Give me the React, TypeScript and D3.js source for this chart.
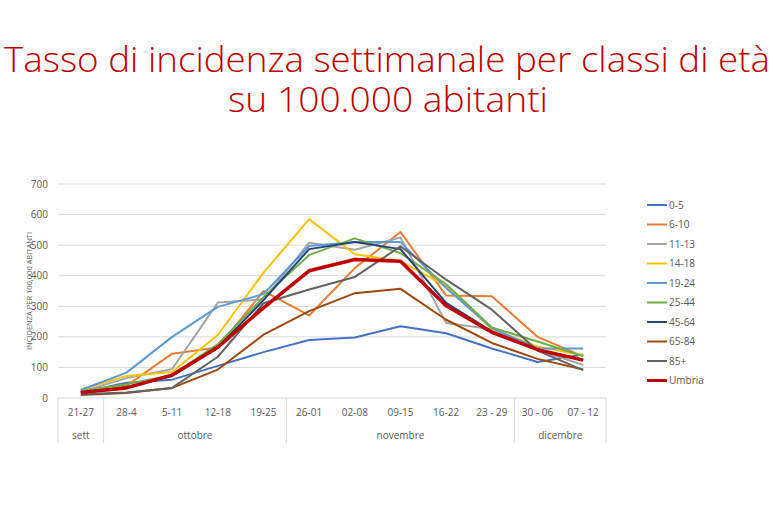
import React from "react";
import * as d3 from "d3";

const categories = ["21-27", "28-4", "5-11", "12-18", "19-25", "26-01", "02-08", "09-15", "16-22", "23 - 29", "30 - 06", "07 - 12"];
const groups = [
  { label: "sett", from: 0, to: 0 },
  { label: "ottobre", from: 1, to: 4 },
  { label: "novembre", from: 5, to: 9 },
  { label: "dicembre", from: 10, to: 11 },
];
const yTicks = [0, 100, 200, 300, 400, 500, 600, 700];

const s0_5 = [18, 50, 60, 105, 150, 190, 198, 235, 212, 162, 118, 142];
const s6_10 = [25, 40, 145, 165, 350, 270, 425, 543, 335, 333, 200, 136];
const s11_13 = [20, 65, 95, 312, 322, 508, 485, 525, 245, 225, 158, 108];
const s14_18 = [28, 72, 85, 206, 410, 585, 470, 448, 365, 226, 168, 140];
const s19_24 = [26, 83, 200, 298, 340, 497, 510, 510, 360, 229, 162, 162];
const s25_44 = [22, 45, 75, 176, 330, 468, 522, 474, 372, 231, 185, 137];
const s45_64 = [18, 35, 72, 165, 320, 487, 510, 487, 311, 218, 158, 125];
const s65_84 = [10, 16, 33, 93, 207, 284, 343, 357, 256, 180, 128, 93];
const s85 = [12, 18, 33, 135, 310, 355, 396, 496, 387, 289, 155, 91];
const sUmbria = [18, 33, 75, 166, 295, 416, 453, 447, 302, 215, 158, 124];

const seriesNames = ["0-5", "6-10", "11-13", "14-18", "19-24", "25-44", "45-64", "65-84", "85+", "Umbria"];
const seriesValues = [s0_5, s6_10, s11_13, s14_18, s19_24, s25_44, s45_64, s65_84, s85, sUmbria];
const seriesColors = ["#4472C4", "#ED7D31", "#A5A5A5", "#FFC000", "#5B9BD5", "#70AD47", "#264478", "#9E480E", "#636363", "#C00000"];

export default function App() {
  const W = 774, H = 516;
  const left = 58, right = 606, top = 184, bottom = 398;
  const x = d3.scaleBand<string>().domain(categories).range([left, right]);
  const cx = (i: number) => (x(categories[i]) as number) + x.bandwidth() / 2;
  const y = d3.scaleLinear().domain([0, 700]).range([bottom, top]);
  const line = d3.line<number>().x((_, i) => cx(i)).y((d) => y(d));
  const font = "'Open Sans', 'Liberation Sans', sans-serif";
  const grey = "#595959";
  const sepX = [left, ...groups.slice(1).map((g) => x(categories[g.from]) as number), right];

  return (
    <svg width={W} height={H} style={{ position: "absolute", left: 0, top: 0, background: "#fff" }}>
      <rect width={W} height={H} fill="#fff" />
      <text x={387} y={72} textAnchor="middle" fill="#C00000" fontFamily={font} fontSize={35} fontWeight={300}
        textLength={766} lengthAdjust="spacingAndGlyphs">Tasso di incidenza settimanale per classi di età</text>
      <text x={388} y={112} textAnchor="middle" fill="#C00000" fontFamily={font} fontSize={35} fontWeight={300}
        textLength={320} lengthAdjust="spacingAndGlyphs">su 100.000 abitanti</text>

      {yTicks.map((t) => (
        <g key={t}>
          {t > 0 && <line x1={left} x2={right} y1={y(t)} y2={y(t)} stroke="#D9D9D9" strokeWidth={1} />}
          <text x={48} y={y(t)} dy="0.35em" textAnchor="end" fill={grey} fontFamily={font} fontSize={10}>{t}</text>
        </g>
      ))}
      <line x1={left} x2={right} y1={bottom} y2={bottom} stroke="#D9D9D9" strokeWidth={1} />
      {sepX.map((sx, i) => (
        <line key={i} x1={sx} x2={sx} y1={bottom} y2={443} stroke="#D9D9D9" strokeWidth={1} />
      ))}
      {categories.map((c, i) => (
        <text key={c} x={cx(i)} y={412} dy="0.35em" textAnchor="middle" fill={grey} fontFamily={font} fontSize={10}>{c}</text>
      ))}
      {groups.map((g) => (
        <text key={g.label} x={(cx(g.from) + cx(g.to)) / 2} y={435} dy="0.35em" textAnchor="middle" fill={grey} fontFamily={font} fontSize={10}>{g.label}</text>
      ))}
      <text transform={`translate(29,${(top + bottom) / 2}) rotate(-90)`} textAnchor="middle" dy="0.35em" fill={grey} fontFamily={font} fontSize={7.5}>INCIDENZA PER 100,000 ABITANTI</text>

      {seriesValues.map((vals, k) => (
        <path key={seriesNames[k]} d={line(vals) as string} fill="none" stroke={seriesColors[k]}
          strokeWidth={seriesNames[k] === "Umbria" ? 3.5 : 2} strokeLinejoin="round" />
      ))}

      {seriesNames.map((n, k) => {
        const ly = 205 + k * 19.5;
        return (
          <g key={n}>
            <line x1={647} x2={667} y1={ly} y2={ly} stroke={seriesColors[k]} strokeWidth={n === "Umbria" ? 3 : 2} />
            <text x={669} y={ly} dy="0.35em" fill={grey} fontFamily={font} fontSize={10}>{n}</text>
          </g>
        );
      })}
    </svg>
  );
}
